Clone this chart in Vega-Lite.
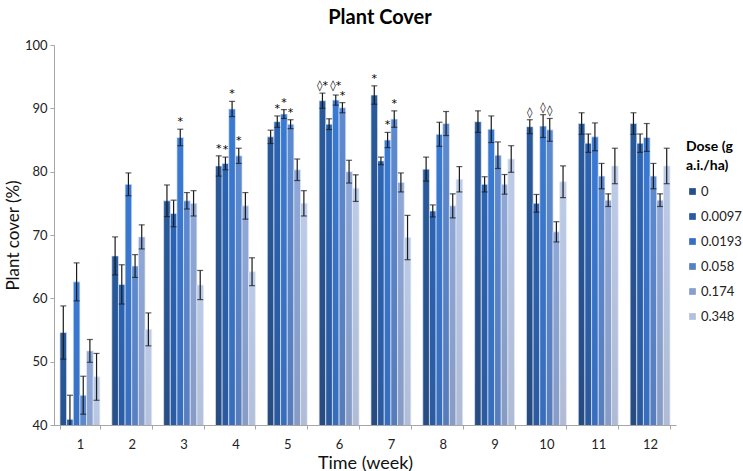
{
  "$schema": "https://vega.github.io/schema/vega-lite/v6.json",
  "autosize": {"type": "none"},
  "width": 622,
  "height": 380,
  "padding": {"left": 54, "top": 45, "right": 67, "bottom": 46},
  "background": "white",
  "config": {"view": {"stroke": null}},
  "title": {"text": "Plant Cover", "font": "Lato", "fontSize": 20, "fontWeight": "bold", "color": "#000000", "offset": 11, "dx": 15},
  "data": {"values": [
    {"week": 1, "dose": "0", "value": 54.6, "err": 4.2},
    {"week": 1, "dose": "0.0097", "value": 40.9, "err": 3.8},
    {"week": 1, "dose": "0.0193", "value": 62.6, "err": 3.0},
    {"week": 1, "dose": "0.058", "value": 44.7, "err": 3.0},
    {"week": 1, "dose": "0.174", "value": 51.7, "err": 1.8},
    {"week": 1, "dose": "0.348", "value": 47.6, "err": 3.7},
    {"week": 2, "dose": "0", "value": 66.7, "err": 3.0},
    {"week": 2, "dose": "0.0097", "value": 62.2, "err": 3.1},
    {"week": 2, "dose": "0.0193", "value": 78.0, "err": 1.8},
    {"week": 2, "dose": "0.058", "value": 65.1, "err": 1.8},
    {"week": 2, "dose": "0.174", "value": 69.7, "err": 1.9},
    {"week": 2, "dose": "0.348", "value": 55.1, "err": 2.6},
    {"week": 3, "dose": "0", "value": 75.4, "err": 2.5},
    {"week": 3, "dose": "0.0097", "value": 73.4, "err": 2.1},
    {"week": 3, "dose": "0.0193", "value": 85.4, "err": 1.3, "sig": "*", "hi": 86.7},
    {"week": 3, "dose": "0.058", "value": 75.4, "err": 1.3},
    {"week": 3, "dose": "0.174", "value": 75.0, "err": 2.0},
    {"week": 3, "dose": "0.348", "value": 62.1, "err": 2.3},
    {"week": 4, "dose": "0", "value": 80.9, "err": 1.6, "sig": "*", "hi": 82.5},
    {"week": 4, "dose": "0.0097", "value": 81.3, "err": 1.0, "sig": "*", "hi": 82.3},
    {"week": 4, "dose": "0.0193", "value": 89.9, "err": 1.2, "sig": "*", "hi": 91.1},
    {"week": 4, "dose": "0.058", "value": 82.5, "err": 1.2, "sig": "*", "hi": 83.7},
    {"week": 4, "dose": "0.174", "value": 74.6, "err": 2.1},
    {"week": 4, "dose": "0.348", "value": 64.2, "err": 2.2},
    {"week": 5, "dose": "0", "value": 85.5, "err": 1.05},
    {"week": 5, "dose": "0.0097", "value": 87.9, "err": 0.9, "sig": "*", "hi": 88.8},
    {"week": 5, "dose": "0.0193", "value": 89.1, "err": 0.7, "sig": "*", "hi": 89.8},
    {"week": 5, "dose": "0.058", "value": 87.5, "err": 0.7, "sig": "*", "hi": 88.2},
    {"week": 5, "dose": "0.174", "value": 80.3, "err": 1.7},
    {"week": 5, "dose": "0.348", "value": 75.0, "err": 2.0},
    {"week": 6, "dose": "0", "value": 91.2, "err": 1.2, "sig": "◊*", "hi": 92.4},
    {"week": 6, "dose": "0.0097", "value": 87.5, "err": 0.85},
    {"week": 6, "dose": "0.0193", "value": 91.3, "err": 0.8, "sig": "◊*", "hi": 92.4},
    {"week": 6, "dose": "0.058", "value": 90.1, "err": 0.8, "sig": "*", "hi": 90.9},
    {"week": 6, "dose": "0.174", "value": 80.0, "err": 1.8},
    {"week": 6, "dose": "0.348", "value": 77.4, "err": 2.1},
    {"week": 7, "dose": "0", "value": 92.1, "err": 1.45, "sig": "*", "hi": 93.55},
    {"week": 7, "dose": "0.0097", "value": 81.7, "err": 0.6},
    {"week": 7, "dose": "0.0193", "value": 85.0, "err": 1.2, "sig": "*", "hi": 86.2},
    {"week": 7, "dose": "0.058", "value": 88.3, "err": 1.3, "sig": "*", "hi": 89.6},
    {"week": 7, "dose": "0.174", "value": 78.3, "err": 1.5},
    {"week": 7, "dose": "0.348", "value": 69.6, "err": 3.5},
    {"week": 8, "dose": "0", "value": 80.4, "err": 1.9},
    {"week": 8, "dose": "0.0097", "value": 73.8, "err": 0.95},
    {"week": 8, "dose": "0.0193", "value": 85.9, "err": 1.9},
    {"week": 8, "dose": "0.058", "value": 87.6, "err": 1.9},
    {"week": 8, "dose": "0.174", "value": 74.6, "err": 1.9},
    {"week": 8, "dose": "0.348", "value": 78.8, "err": 2.0},
    {"week": 9, "dose": "0", "value": 87.9, "err": 1.7},
    {"week": 9, "dose": "0.0097", "value": 78.0, "err": 1.2},
    {"week": 9, "dose": "0.0193", "value": 86.7, "err": 2.1},
    {"week": 9, "dose": "0.058", "value": 82.6, "err": 2.1},
    {"week": 9, "dose": "0.174", "value": 78.0, "err": 1.55},
    {"week": 9, "dose": "0.348", "value": 82.0, "err": 2.1},
    {"week": 10, "dose": "0", "value": 87.1, "err": 1.1, "sig": "◊", "hi": 88.2},
    {"week": 10, "dose": "0.0097", "value": 75.0, "err": 1.4},
    {"week": 10, "dose": "0.0193", "value": 87.2, "err": 1.8, "sig": "◊", "hi": 89.0},
    {"week": 10, "dose": "0.058", "value": 86.6, "err": 1.8, "sig": "◊", "hi": 88.4},
    {"week": 10, "dose": "0.174", "value": 70.5, "err": 1.6},
    {"week": 10, "dose": "0.348", "value": 78.4, "err": 2.5},
    {"week": 11, "dose": "0", "value": 87.6, "err": 1.7},
    {"week": 11, "dose": "0.0097", "value": 84.5, "err": 1.45},
    {"week": 11, "dose": "0.0193", "value": 85.5, "err": 2.2},
    {"week": 11, "dose": "0.058", "value": 79.3, "err": 2.0},
    {"week": 11, "dose": "0.174", "value": 75.5, "err": 1.0},
    {"week": 11, "dose": "0.348", "value": 80.9, "err": 2.8},
    {"week": 12, "dose": "0", "value": 87.6, "err": 1.7},
    {"week": 12, "dose": "0.0097", "value": 84.5, "err": 1.45},
    {"week": 12, "dose": "0.0193", "value": 85.4, "err": 2.2},
    {"week": 12, "dose": "0.058", "value": 79.3, "err": 2.0},
    {"week": 12, "dose": "0.174", "value": 75.5, "err": 1.0},
    {"week": 12, "dose": "0.348", "value": 80.9, "err": 2.8}
  ]},
  "encoding": {
    "x": {
      "field": "week", "type": "ordinal",
      "scale": {"paddingInner": 0.23, "paddingOuter": 0.115},
      "axis": {
        "title": "Time (week)", "titleFont": "Lato", "titleFontSize": 18, "titleFontWeight": "normal", "titleColor": "#111111", "titlePadding": 3,
        "labelAngle": 0, "labelFont": "Lato", "labelFontSize": 13, "labelColor": "#222222", "labelPadding": 9,
        "tickBand": "extent", "tickSize": 4, "tickColor": "#a6a6a6", "domainColor": "#a6a6a6", "grid": false
      }
    },
    "xOffset": {
      "field": "dose", "type": "nominal",
      "sort": ["0", "0.0097", "0.0193", "0.058", "0.174", "0.348"],
      "scale": {"paddingInner": 0, "paddingOuter": 0}
    },
    "y": {
      "field": "value", "type": "quantitative",
      "scale": {"domain": [40, 100], "zero": false, "nice": false},
      "axis": {
        "values": [40, 50, 60, 70, 80, 90, 100],
        "title": "Plant cover (%)", "titleFont": "Lato", "titleFontSize": 17, "titleFontWeight": "normal", "titleColor": "#111111", "titlePadding": 2,
        "labelFont": "Lato", "labelFontSize": 13, "labelColor": "#222222", "labelPadding": 3,
        "tickSize": 4, "tickColor": "#a6a6a6", "domainColor": "#a6a6a6", "grid": false
      }
    }
  },
  "layer": [
    {
      "mark": {"type": "bar", "stroke": "#e4ebf5", "strokeWidth": 0.7, "clip": true},
      "encoding": {
        "fill": {
          "condition": [
            {"test": "datum.dose === '0'", "value": {"gradient": "linear", "x1": 0, "y1": 0, "x2": 0, "y2": 1, "stops": [{"offset": 0, "color": "#2a5a9c"}, {"offset": 1, "color": "#243f6a"}]}},
            {"test": "datum.dose === '0.0097'", "value": {"gradient": "linear", "x1": 0, "y1": 0, "x2": 0, "y2": 1, "stops": [{"offset": 0, "color": "#2c64b4"}, {"offset": 1, "color": "#2a4f8a"}]}},
            {"test": "datum.dose === '0.0193'", "value": {"gradient": "linear", "x1": 0, "y1": 0, "x2": 0, "y2": 1, "stops": [{"offset": 0, "color": "#3a7ad4"}, {"offset": 1, "color": "#3562a8"}]}},
            {"test": "datum.dose === '0.058'", "value": {"gradient": "linear", "x1": 0, "y1": 0, "x2": 0, "y2": 1, "stops": [{"offset": 0, "color": "#5d8ad0"}, {"offset": 1, "color": "#5270a8"}]}},
            {"test": "datum.dose === '0.174'", "value": {"gradient": "linear", "x1": 0, "y1": 0, "x2": 0, "y2": 1, "stops": [{"offset": 0, "color": "#8fa8d8"}, {"offset": 1, "color": "#7d8db0"}]}}
          ],
          "value": {"gradient": "linear", "x1": 0, "y1": 0, "x2": 0, "y2": 1, "stops": [{"offset": 0, "color": "#bccbe8"}, {"offset": 1, "color": "#a3acc2"}]}
        }
      }
    },
    {
      "mark": {"type": "square", "opacity": 0},
      "encoding": {
        "color": {
          "field": "dose", "type": "nominal",
          "scale": {
            "domain": ["0", "0.0097", "0.0193", "0.058", "0.174", "0.348"],
            "range": ["#264d85", "#2b5a9f", "#376fc0", "#5880c0", "#8a9fc8", "#b4c0da"]
          },
          "legend": {
            "orient": "none", "legendX": 632, "legendY": 95,
            "title": ["Dose (g", "a.i./ha)"], "titleFont": "Lato", "titleFontSize": 14, "titleFontWeight": "bold", "titleColor": "#000000", "titlePadding": 12, "titleLineHeight": 19,
            "labelFont": "Lato", "labelFontSize": 13, "labelColor": "#222222", "labelOffset": 2,
            "symbolType": "square", "symbolSize": 45, "symbolStrokeWidth": 0, "symbolOpacity": 1, "rowPadding": 11
          }
        }
      }
    },
    {
      "mark": {"type": "errorbar", "ticks": {"size": 6, "clip": true}, "rule": {"clip": true}, "color": "#1a1a1a", "thickness": 1.2},
      "encoding": {
        "y": {"field": "value", "type": "quantitative"},
        "yError": {"field": "err"}
      }
    },
    {
      "transform": [{"filter": "datum.sig != null"}],
      "mark": {"type": "text", "font": "DejaVu Sans", "fontSize": 11, "color": "#000000", "baseline": "bottom", "dy": -2},
      "encoding": {
        "y": {"field": "hi", "type": "quantitative"},
        "text": {"field": "sig"}
      }
    }
  ]
}
